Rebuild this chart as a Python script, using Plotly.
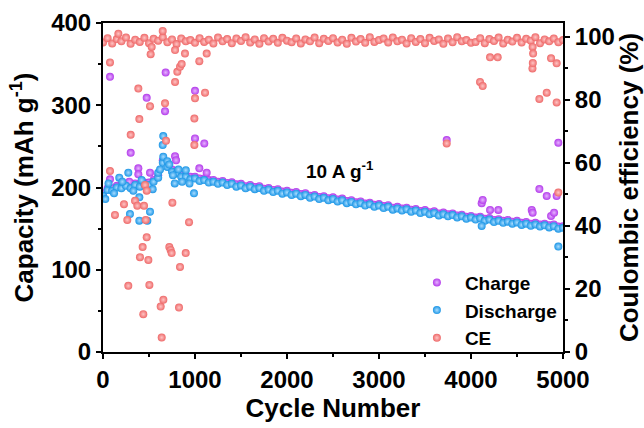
import plotly.graph_objects as go

# ---------------- data ----------------
step = 50
discharge_main = [190, 197, 196, 200, 199, 202, 199, 203, 201, 204, 203, 207, 212, 230, 225, 219, 217, 213, 213, 210, 211,
                  208, 209, 206, 207, 204.5, 206, 203, 204.5, 201, 202.5, 199, 201, 198, 199.5, 196, 197.5, 194.5, 196, 192.5, 194,
                  191, 192.5, 189.5, 191, 187.5, 189, 186, 187.5, 184.5, 186, 183, 184.5, 181, 182.5, 179.5, 181, 178, 179.5, 176.5, 178,
                  175, 176.5, 173, 174.5, 172, 173.5, 170.5, 172, 169, 170.5, 167.5, 169, 166, 167.5, 165, 166.5, 163.5, 165, 162, 163.5,
                  161, 162.5, 159.5, 161, 158, 159.5, 157, 158.5, 156, 157.5, 154.5, 156, 153.5, 155, 152.5, 154, 151.5, 153, 150, 151]
charge_main = [193, 199, 199, 202, 202, 204, 202, 205, 204, 206, 206, 209, 215, 233, 228, 222, 220, 216, 215, 213, 213,
               211, 211, 209, 209, 207, 208, 205.5, 206.5, 204, 204.5, 201.5, 203, 200.5, 201.5, 198.5, 199.5, 197, 198, 195, 196,
               193.5, 194.5, 192, 193, 190, 191, 188.5, 189.5, 187, 188, 185.5, 186.5, 183.5, 184.5, 182, 183, 180.5, 181.5, 179, 180,
               177.5, 178.5, 175.5, 176.5, 174.5, 175.5, 173, 174, 171.5, 172.5, 170, 171, 168.5, 169.5, 167.5, 168.5, 166, 167, 164.5, 165.5,
               163.5, 164.5, 162, 163, 160.5, 161.5, 159.5, 160.5, 158.5, 159.5, 157, 158, 156, 157, 155, 156, 154, 155, 152.5, 153]
ce_main = [98.2, 99.6, 97.9, 99.3, 98.6, 99.8, 97.8, 99.1, 98.4, 99.7, 98.0, 99.4, 98.8, 99.9, 98.3, 99.2, 97.7, 99.5, 98.6, 99.0, 98.1,
           99.6, 98.4, 99.1, 97.9, 99.8, 98.6, 99.3, 98.0, 99.5, 98.7, 99.9, 98.2, 99.2, 97.8, 99.6, 98.5, 99.4, 98.1, 99.7, 98.8,
           98.3, 99.5, 97.9, 99.2, 98.6, 99.8, 98.0, 99.4, 98.7, 99.6, 98.2, 99.1, 97.8, 99.7, 98.5, 99.3, 98.1, 99.9, 98.4, 99.0,
           99.5, 98.2, 99.8, 98.6, 99.1, 97.9, 99.6, 98.4, 99.3, 98.0, 99.7, 98.7, 99.2, 97.8, 99.5, 98.3, 99.9, 98.6, 99.0, 98.1,
           98.4, 99.6, 98.0, 99.3, 98.7, 99.8, 97.9, 99.1, 98.5, 99.7, 98.2, 99.4, 98.8, 99.9, 98.0, 99.2, 98.6, 99.5, 98.3, 99.0]

charge_out_x = [76, 76, 286, 301, 384, 384, 475, 511, 674, 681, 783, 794, 1000, 1000, 1047, 1101, 1127,
                3736, 4116, 4127, 4207, 4297, 4660, 4670, 4743, 4823, 4870, 4903, 4931, 4949]
charge_out_y = [334.5, 210, 207, 242.2, 223.3, 216, 309, 218, 292.8, 339.8, 238, 233, 317.5, 259.7, 223.3, 253.6, 218,
                257.6, 180.8, 184.8, 172.7, 172.7, 172.7, 169.4, 198.2, 189.7, 165.4, 169.4, 189.7, 254.4]

discharge_out_x = [25, 60, 120, 177, 210, 275, 293, 330, 395, 395, 420, 482, 511, 540, 600, 620, 649, 655, 655, 700,
                   720, 760, 780, 820, 860, 900, 940, 989, 4116, 4949]
discharge_out_y = [186, 205, 193, 212, 207, 218, 167.8, 196, 188, 159.7, 209, 159.7, 170.6, 198, 218, 222, 251.6, 262.5, 237.4, 232,
                   228, 215, 205, 222, 207, 221, 205, 193, 153.3, 128.2]

ce_out_x = [76, 167, 301, 384, 395, 511, 518, 529, 649, 674, 685, 783, 783, 808, 837, 855, 891, 993, 993, 1000, 1047, 1109, 1127,
            76, 130, 228, 264, 275, 348, 373, 402, 431, 438, 446, 457, 464, 475, 475, 493, 504, 627, 638, 656, 721, 735, 746, 754, 826, 837, 899, 935,
            3736, 4098, 4127, 4207, 4290, 4668, 4670, 4672, 4675, 4743, 4823, 4870, 4931, 4931, 4949]
ce_out_y = [91.9, 101.0, 68.9, 83.6, 73.9, 78.0, 94.5, 96.8, 101.9, 78.9, 67.0, 95.8, 85.7, 88.9, 90.5, 91.4, 94.7, 74.1, 65.7, 80.5, 92.3, 82.3, 94.7,
            57.4, 43.5, 46.9, 41.9, 21.0, 48.0, 46.4, 30.1, 33.3, 12.0, 46.4, 53.0, 41.9, 51.2, 36.4, 29.2, 21.3, 14.4, 4.6, 16.6, 33.3, 32.4, 31.4, 47.4, 14.1, 27.0, 31.4, 41.2,
            66.2, 85.7, 84.4, 93.5, 93.5, 90.0, 96.8, 91.7, 94.7, 80.3, 82.3, 93.2, 91.6, 79.2, 50.6]

x_ticks = [0, 1000, 2000, 3000, 4000, 5000]

# ---------------- build ----------------
def cyc(n):
    return [i * step for i in range(n)]

FONT = "Liberation Sans"
C_CH = "#B43CEB"
C_DIS = "#1C96E6"
C_CE = "#EE6A6A"

def mk(color, light):
    return dict(color=color, size=8, line=dict(width=0),
                gradient=dict(type="radial", color=light))

fig = go.Figure()
fig.add_trace(go.Scatter(x=cyc(len(charge_main)) + charge_out_x, y=charge_main + charge_out_y,
                         mode="markers", name="Charge", marker=mk(C_CH, "#E6B4FF")))
fig.add_trace(go.Scatter(x=cyc(len(discharge_main)) + discharge_out_x, y=discharge_main + discharge_out_y,
                         mode="markers", name="Discharge", marker=mk(C_DIS, "#A8DCFF")))
fig.add_trace(go.Scatter(x=cyc(len(ce_main)) + ce_out_x, y=ce_main + ce_out_y, yaxis="y2",
                         mode="markers", name="CE", marker=mk(C_CE, "#FFC4C4")))

axis_common = dict(showgrid=False, zeroline=False, showline=True, linecolor="black", linewidth=2,
                   ticks="outside", ticklen=5, tickwidth=2, tickcolor="black",
                   tickfont=dict(family=FONT, size=24, color="black", weight="bold"))

fig.update_layout(
    template="none",
    width=644, height=428,
    margin=dict(l=103, r=81, t=23, b=76),
    paper_bgcolor="white", plot_bgcolor="white",
    font=dict(family=FONT, color="black"),
    xaxis=dict(range=[0, 5000], tickvals=x_ticks, mirror=True,
               minor=dict(ticks="outside", ticklen=3, tickwidth=2, dtick=500, tickcolor="black"),
               title=dict(text="Cycle Number", font=dict(family=FONT, size=26, weight="bold"), standoff=4),
               **axis_common),
    yaxis=dict(range=[0, 400], dtick=100,
               minor=dict(ticks="outside", ticklen=3, tickwidth=2, dtick=50, tickcolor="black"),
               title=dict(text="Capacity (mAh g<sup>-1</sup>)", font=dict(family=FONT, size=26, weight="bold"), standoff=10),
               **axis_common),
    yaxis2=dict(range=[0, 104.4], dtick=20, overlaying="y", side="right",
                minor=dict(ticks="outside", ticklen=3, tickwidth=2, dtick=10, tickcolor="black"),
                title=dict(text="Coulombic efficiency (%)", font=dict(family=FONT, size=26, weight="bold"), standoff=2),
                **axis_common),
    legend=dict(x=0.665, y=0.126, xanchor="left", yanchor="middle", bgcolor="rgba(0,0,0,0)",
                itemwidth=46,
                font=dict(family=FONT, size=19, color="black", weight="bold")),
    annotations=[dict(x=2580, y=221, xref="x", yref="y", text="10 A g<sup>-1</sup>", showarrow=False,
                      font=dict(family=FONT, size=19, color="black", weight="bold"))],
)

fig.write_html("out.html")
